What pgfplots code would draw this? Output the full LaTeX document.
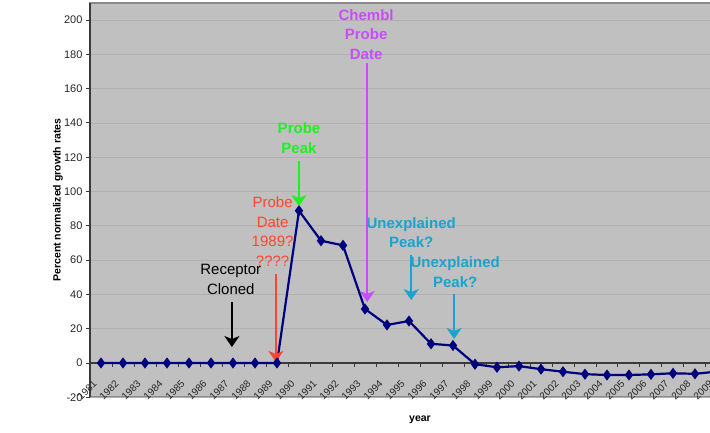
\documentclass[border=0pt]{standalone}
\usepackage{fontspec}
\setmainfont{Liberation Sans}
\usepackage{pgfplots}
\pgfplotsset{compat=1.18}
\usetikzlibrary{arrows.meta}

\definecolor{plotbg}{HTML}{C0C0C0}
\definecolor{gridgray}{HTML}{B0B0B0}
\definecolor{framegray}{HTML}{8A8A8A}
\definecolor{axisdark}{HTML}{3A3A3A}
\definecolor{navyline}{HTML}{00007F}
\definecolor{annred}{HTML}{FF4430}
\definecolor{anngreen}{HTML}{22EE22}
\definecolor{annpurple}{HTML}{C84CF8}
\definecolor{anncyan}{HTML}{1AA3CC}

\pgfplotstableread{
year rate
1981 0
1982 0
1983 0
1984 0
1985 0
1986 0
1987 0
1988 0
1989 0
1990 88.8
1991 71.3
1992 68.6
1993 31.5
1994 22.2
1995 24.5
1996 11.2
1997 10.2
1998 -0.7
1999 -2.5
2000 -1.8
2001 -3.6
2002 -5.1
2003 -6.5
2004 -7.0
2005 -7.0
2006 -6.6
2007 -6.0
2008 -6.3
2009 -5.0
}\growth

\begin{document}
\begin{tikzpicture}
\useasboundingbox (0,0) rectangle (710pt,432pt);
\begin{axis}[
    at={(90pt,34.7pt)}, anchor=south west,
    scale only axis,
    width=660pt, height=394.4pt,
    xmin=1980.5, xmax=2010.5,
    ymin=-20, ymax=210,
    axis x line=middle, axis y line=left,
    axis line style={-},
    x axis line style={draw=axisdark, line width=1.4pt},
    y axis line style={draw=axisdark, line width=2pt},
    hide obscured x ticks=false, hide obscured y ticks=false,
    axis background/.style={fill=plotbg, draw=framegray, line width=2pt},
    ytick={-20,0,20,...,200},
    ymajorgrids,
    major grid style={gridgray, line width=0.8pt},
    xtick={1981,...,2009},
    minor xtick={1980.5,1981.5,...,2010.5},
    major x tick style={draw=none},
    tick align=outside,
    major tick length=4pt, minor tick length=4pt,
    tick style={axisdark, line width=0.9pt},
    /pgf/number format/1000 sep={},
    /pgf/number format/assume math mode=true,
    yticklabel style={font=\fontsize{11}{13}\selectfont, text=black!85},
    xticklabel style={font=\fontsize{10}{12}\selectfont, text=black!85,
        xshift=-3.5pt, yshift=-12.8pt, rotate=45, anchor=east},
    xlabel={year}, ylabel={Percent normalized growth rates},
    every axis x label/.style={at={(axis description cs:0.5,0)}, anchor=center,
        yshift=-22pt, font=\fontsize{10.5}{12}\selectfont\bfseries},
    every axis y label/.style={at={([xshift=-32pt]axis description cs:0,0.5)},
        rotate=90, anchor=center, font=\fontsize{10.5}{12}\selectfont\bfseries},
]
\addplot[color=navyline, line width=2.2pt, mark=diamond*, mark size=3.8pt,
    mark options={solid, fill=navyline}] table[x=year, y=rate] {\growth};

% annotations
\node[font=\fontsize{15}{19.5}\selectfont, text=black, align=center]
    at (axis cs:1986.9,48.7) {Receptor\\Cloned};
\draw[black, line width=2pt, -{Stealth[length=11pt,width=15pt,inset=3pt]}]
    (axis cs:1986.95,35.6) -- (axis cs:1986.95,9.3);

\node[font=\fontsize{15}{19.5}\selectfont, text=annred, align=center]
    at (axis cs:1988.8,76.7) {Probe\\Date\\1989?\\????};
\draw[annred, line width=2pt, -{Stealth[length=11pt,width=15pt,inset=3pt]}]
    (axis cs:1988.95,51.9) -- (axis cs:1988.95,0.6);

\node[font=\fontsize{15}{19.5}\selectfont\bfseries, text=anngreen, align=center]
    at (axis cs:1990,131.2) {Probe\\Peak};
\draw[anngreen, line width=2pt, -{Stealth[length=11pt,width=15pt,inset=3pt]}]
    (axis cs:1990,117.8) -- (axis cs:1990,91.5);

\node[font=\fontsize{15}{19.5}\selectfont\bfseries, text=annpurple, align=center]
    at (axis cs:1993.05,191.5) {Chembl\\Probe\\Date};
\draw[annpurple, line width=2pt, -{Stealth[length=11pt,width=15pt,inset=3pt]}]
    (axis cs:1993.1,175) -- (axis cs:1993.1,35.6);

\node[font=\fontsize{15}{19.5}\selectfont\bfseries, text=anncyan, align=center]
    at (axis cs:1995.1,76.1) {Unexplained\\Peak?};
\draw[anncyan, line width=2pt, -{Stealth[length=11pt,width=15pt,inset=3pt]}]
    (axis cs:1995.1,63) -- (axis cs:1995.1,36.7);

\node[font=\fontsize{15}{19.5}\selectfont\bfseries, text=anncyan, align=center]
    at (axis cs:1997.1,53.1) {Unexplained\\Peak?};
\draw[anncyan, line width=2pt, -{Stealth[length=11pt,width=15pt,inset=3pt]}]
    (axis cs:1997.05,40.2) -- (axis cs:1997.05,14);
\end{axis}
\end{tikzpicture}
\end{document}
